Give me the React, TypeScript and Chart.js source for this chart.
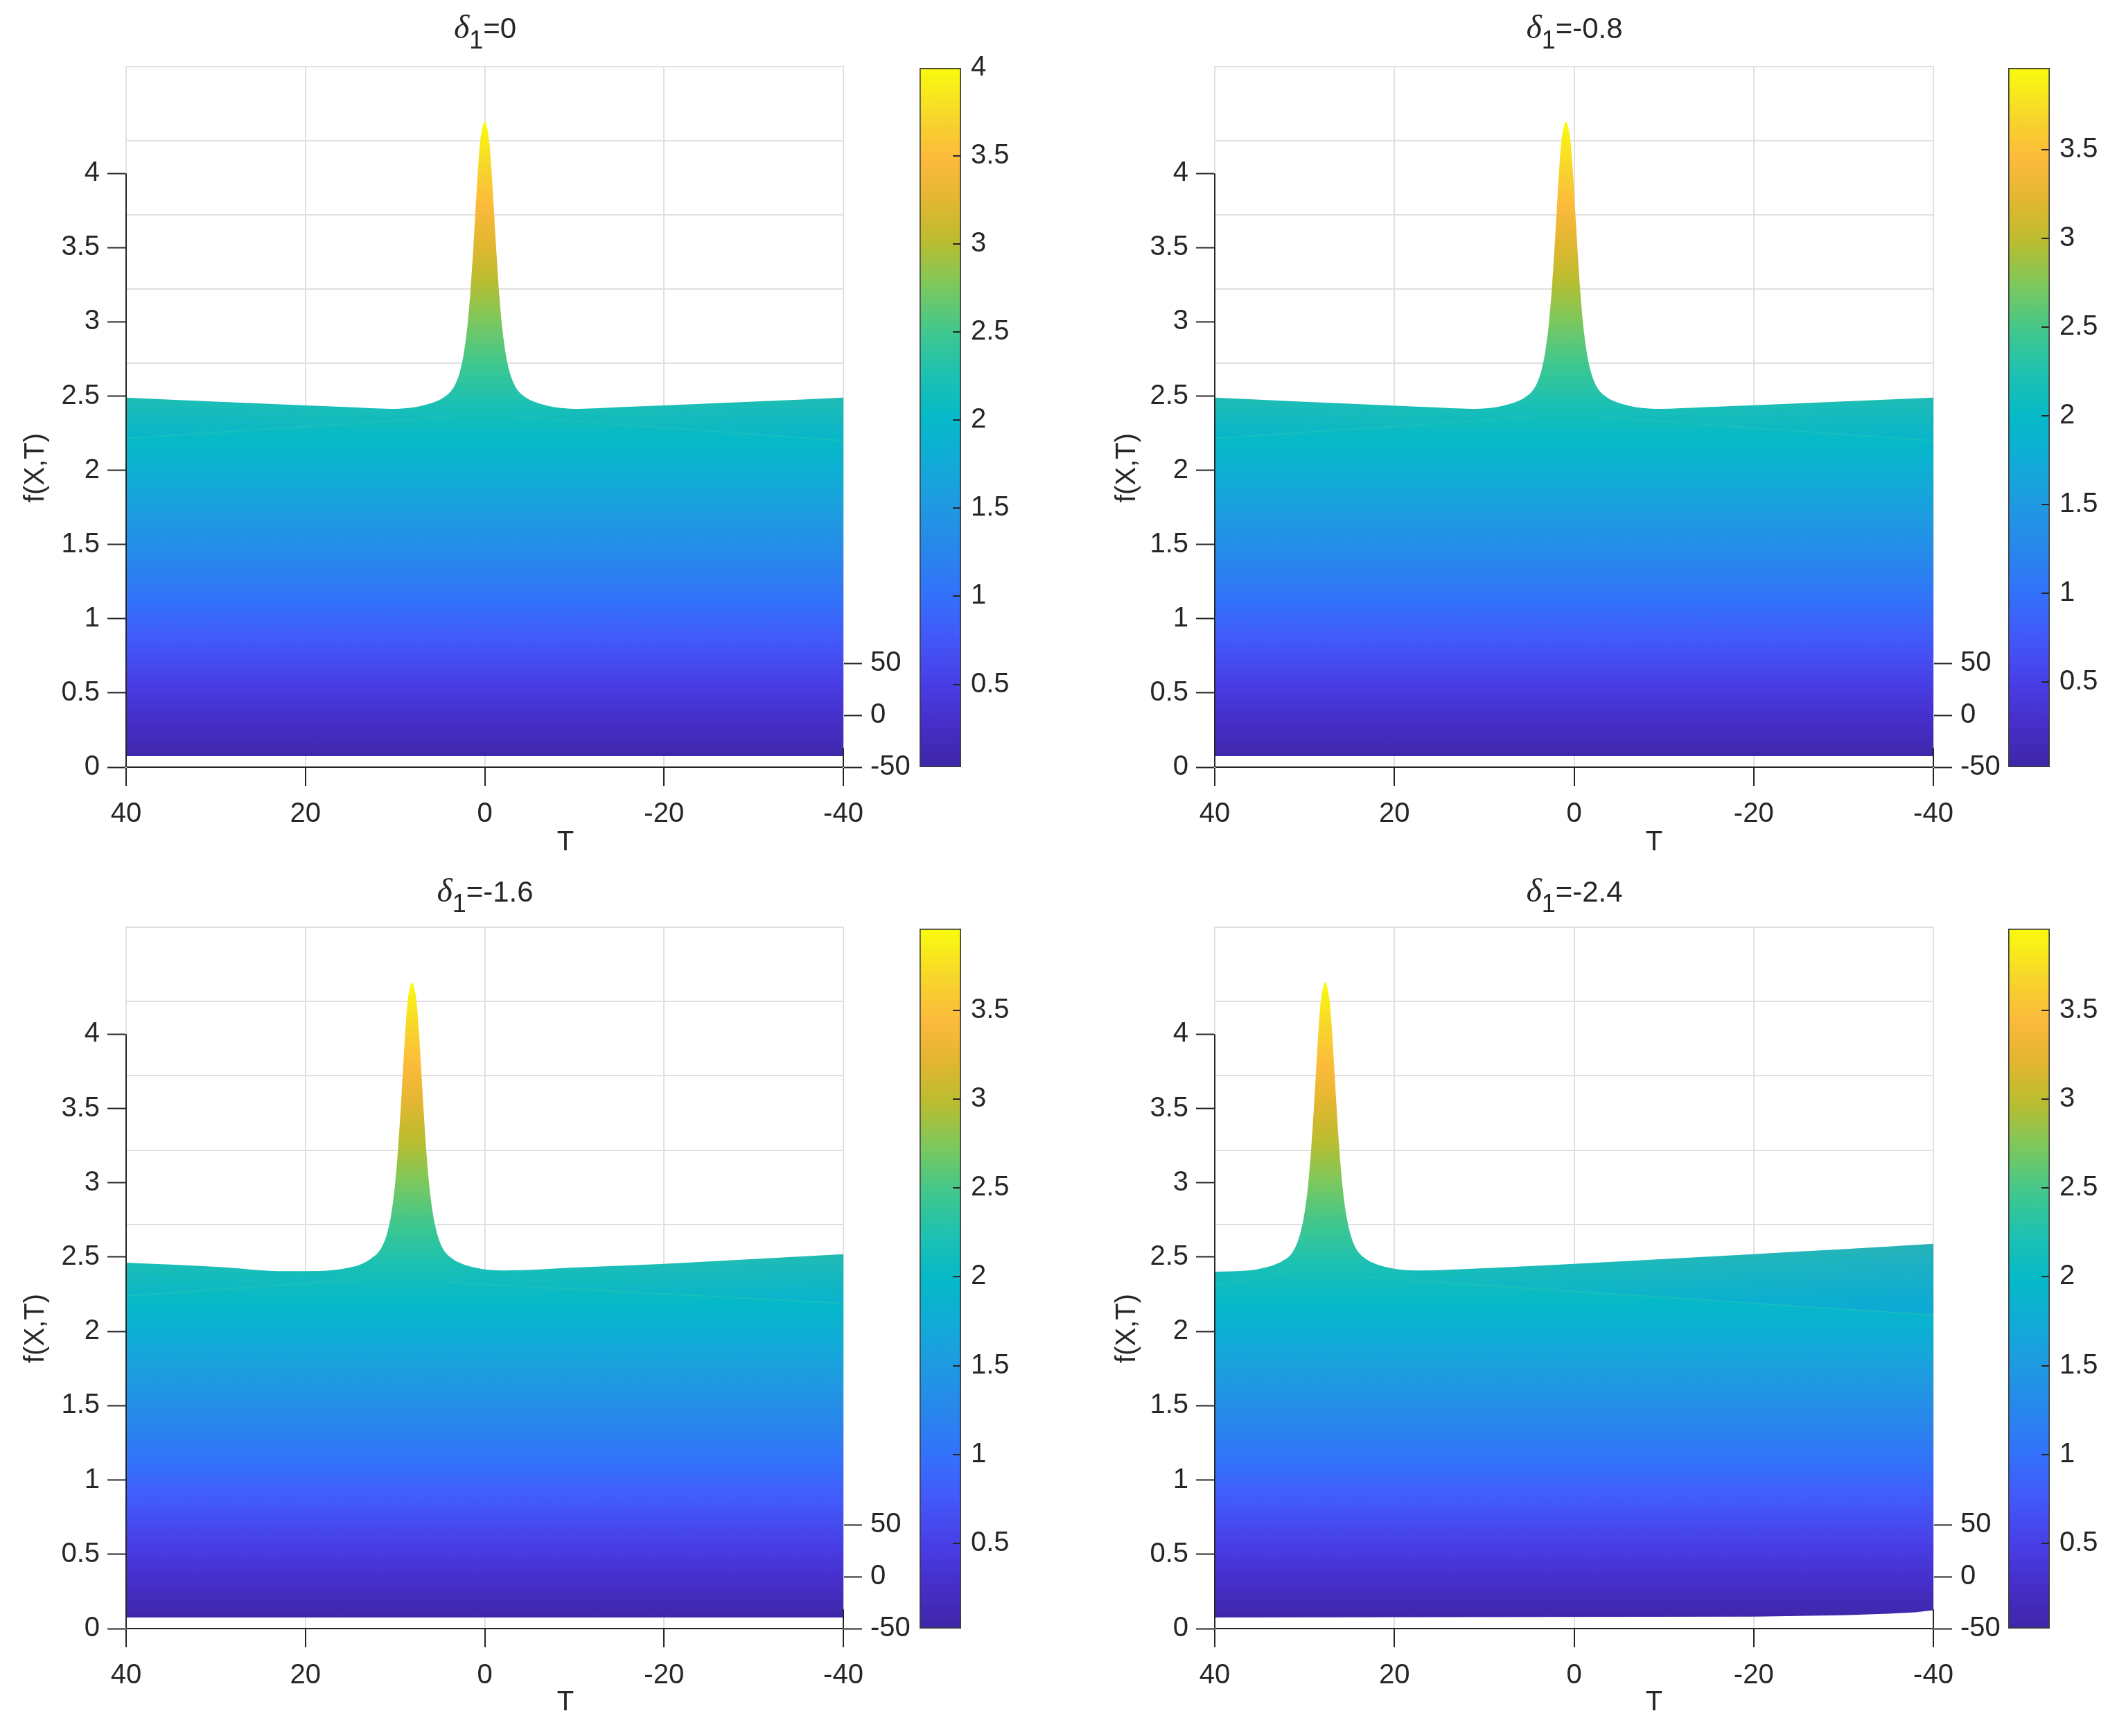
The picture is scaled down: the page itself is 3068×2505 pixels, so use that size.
import React, { useEffect, useRef } from "react";
import { Chart, registerables } from "chart.js";

Chart.register(...registerables);

const FONT = '"Liberation Sans", Arial, Helvetica, sans-serif';
const INK = "#262626";
const GRID = "#e0e0e0";

// ---------------- data ----------------
const DELTAS = ["0", "-0.8", "-1.6", "-2.4"];

const X_TICKS = [40, 20, 0, -20, -40];
const Y_TICKS = [0, 0.5, 1, 1.5, 2, 2.5, 3, 3.5, 4];
const Y_BACK_GRID = [0.22, 0.72, 1.22, 1.72, 2.22, 2.72, 3.22, 3.72, 4.22];
const DEPTH_TICKS = [-50, 0, 50];
const CBAR_TICKS_A = [0.5, 1, 1.5, 2, 2.5, 3, 3.5, 4];
const CBAR_TICKS_B = [0.5, 1, 1.5, 2, 2.5, 3, 3.5];

// panel 1 (delta = 0)
const T_TOP_1 = [-40, -30, -20, -15, -10.5, -8.5, -7, -5.6, -4.6, -3.8, -3.2, -2.7, -2.3, -1.9, -1.55, -1.25, -1, -0.75, -0.5, -0.25, 0, 0.25, 0.5, 0.75, 1, 1.25, 1.55, 1.9, 2.3, 2.7, 3.2, 3.8, 4.6, 5.6, 7, 8.5, 10.5, 15, 20, 30, 40];
const F_TOP_1 = [2.49, 2.463, 2.437, 2.425, 2.414, 2.42, 2.435, 2.46, 2.49, 2.53, 2.59, 2.68, 2.8, 2.99, 3.24, 3.52, 3.78, 4.03, 4.22, 4.31, 4.35, 4.31, 4.22, 4.03, 3.78, 3.52, 3.24, 2.99, 2.8, 2.68, 2.59, 2.53, 2.49, 2.46, 2.435, 2.42, 2.414, 2.425, 2.437, 2.463, 2.49];
const T_EDGE_1 = [-40, -3.6, 0, 3.6, 40];
const F_EDGE_1 = [2.2, 2.36, null, 2.36, 2.215];
const T_BASE_1 = [-40, 40];
const F_BASE_1 = [0.075, 0.075];

// panel 2 (delta = -0.8)
const T_TOP_2 = [-40, -30, -20, -14.1, -9.6, -7.6, -6.1, -4.7, -3.7, -2.9, -2.3, -1.8, -1.4, -1.0, -0.65, -0.35, -0.1, 0.15, 0.4, 0.65, 0.9, 1.15, 1.4, 1.65, 1.9, 2.15, 2.45, 2.8, 3.2, 3.6, 4.1, 4.7, 5.5, 6.5, 7.9, 9.4, 11.4, 16, 21, 30, 40];
const F_TOP_2 = [2.49, 2.464, 2.438, 2.424, 2.414, 2.42, 2.435, 2.46, 2.49, 2.53, 2.59, 2.68, 2.8, 2.99, 3.24, 3.52, 3.78, 4.03, 4.22, 4.31, 4.35, 4.31, 4.22, 4.03, 3.78, 3.52, 3.24, 2.99, 2.8, 2.68, 2.59, 2.53, 2.49, 2.46, 2.435, 2.42, 2.414, 2.425, 2.438, 2.462, 2.49];
const T_EDGE_2 = [-40, -2.7, 0.9, 4.5, 40];
const F_EDGE_2 = [2.2, 2.36, null, 2.36, 2.215];
const T_BASE_2 = [-40, 40];
const F_BASE_2 = [0.075, 0.075];

// panel 3 (delta = -1.6)
const T_TOP_3 = [-40, -30, -20, -10, -2.4, -0.4, 1.1, 2.5, 3.5, 4.3, 4.9, 5.4, 5.8, 6.2, 6.55, 6.85, 7.1, 7.35, 7.6, 7.85, 8.1, 8.35, 8.6, 8.85, 9.1, 9.35, 9.65, 10.0, 10.4, 10.8, 11.3, 11.9, 12.7, 13.7, 15.1, 16.6, 18.6, 22, 30, 40];
const F_TOP_3 = [2.52, 2.487, 2.455, 2.43, 2.41, 2.415, 2.43, 2.455, 2.485, 2.525, 2.585, 2.68, 2.8, 2.99, 3.24, 3.52, 3.78, 4.03, 4.22, 4.31, 4.35, 4.31, 4.22, 4.03, 3.78, 3.52, 3.24, 2.99, 2.8, 2.68, 2.59, 2.53, 2.49, 2.455, 2.43, 2.415, 2.407, 2.405, 2.435, 2.463];
const T_EDGE_3 = [-40, 4.2, 8.1, 12.3, 40];
const F_EDGE_3 = [2.19, 2.33, null, 2.355, 2.24];
const T_BASE_3 = [-40, 40];
const F_BASE_3 = [0.075, 0.075];

// panel 4 (delta = -2.4)
const T_TOP_4 = [-40, -30, -20, -10, 0, 10, 17.2, 19.2, 20.7, 22.1, 23.1, 23.9, 24.5, 25, 25.4, 25.8, 26.15, 26.45, 26.7, 26.95, 27.2, 27.45, 27.7, 27.95, 28.2, 28.45, 28.7, 28.95, 29.25, 29.6, 30, 30.4, 30.9, 31.5, 32.3, 33.3, 34.7, 36.2, 40];
const F_TOP_4 = [2.59, 2.553, 2.52, 2.487, 2.455, 2.425, 2.41, 2.415, 2.43, 2.455, 2.485, 2.525, 2.585, 2.68, 2.8, 2.99, 3.24, 3.52, 3.78, 4.03, 4.22, 4.31, 4.35, 4.31, 4.22, 4.03, 3.78, 3.52, 3.24, 2.99, 2.8, 2.68, 2.585, 2.52, 2.48, 2.45, 2.425, 2.41, 2.402];
const T_EDGE_4 = [-40, -20, 0, 24, 27.7, 31.5, 40];
const F_EDGE_4 = [2.11, 2.19, 2.27, 2.37, null, 2.4, 2.31];
const T_BASE_4 = [-40, -38, -35, -30, -25, -20, 40];
const F_BASE_4 = [0.124, 0.11, 0.1, 0.09, 0.085, 0.08, 0.075];

// colour limits
const SURF_MIN = 0.05;
const SURF_MAX = 4.35;
const CBAR_RANGE_1 = [0.03, 4.0];
const CBAR_RANGE_B = [0.02, 3.96];

// parula-like colormap stops
const PARULA: [number, number, number, number][] = [
  [0.0, 62, 38, 168],
  [0.06, 70, 46, 200],
  [0.12, 72, 62, 230],
  [0.19, 66, 90, 250],
  [0.25, 50, 114, 250],
  [0.31, 40, 134, 236],
  [0.38, 30, 155, 225],
  [0.44, 16, 172, 214],
  [0.5, 5, 185, 200],
  [0.56, 28, 193, 178],
  [0.62, 62, 199, 143],
  [0.69, 125, 200, 92],
  [0.75, 185, 189, 48],
  [0.81, 226, 182, 48],
  [0.87, 252, 186, 60],
  [0.93, 247, 214, 42],
  [1.0, 249, 251, 14],
];

// ---------------- layout (page pixels) ----------------
const Y_MAX = 4.72;
const DEPTH_MAX = 626;
const PAD_TOP = 34;
const AX_BOTTOM = 143;
const AX_LEFT = 182;
const AX_RIGHT = 130;
const FS = 40;

type Panel = {
  delta: string;
  left: number;
  right: number;
  top: number;
  bottom: number;
  cbLeft: number;
  topT: number[];
  topF: number[];
  edgeT: number[];
  edgeF: (number | null)[];
  baseT: number[];
  baseF: number[];
  cbRange: number[];
  cbTicks: number[];
  tintL: number;
  tintR: number;
  titleX: number;
  titleY: number;
  tX: number;
  tY: number;
  fX: number;
  fY: number;
};

const PANELS: Panel[] = [
  { delta: DELTAS[0], left: 182, right: 1217, top: 94, bottom: 1107, cbLeft: 1327, topT: T_TOP_1, topF: F_TOP_1, edgeT: T_EDGE_1, edgeF: F_EDGE_1, baseT: T_BASE_1, baseF: F_BASE_1, cbRange: CBAR_RANGE_1, cbTicks: CBAR_TICKS_A, tintL: 0.1, tintR: 0.1, titleX: 700, titleY: 39, tX: 816, tY: 1213, fX: 49, fY: 675 },
  { delta: DELTAS[1], left: 1753, right: 2790, top: 94, bottom: 1107, cbLeft: 2898, topT: T_TOP_2, topF: F_TOP_2, edgeT: T_EDGE_2, edgeF: F_EDGE_2, baseT: T_BASE_2, baseF: F_BASE_2, cbRange: CBAR_RANGE_B, cbTicks: CBAR_TICKS_B, tintL: 0.1, tintR: 0.1, titleX: 2272, titleY: 39, tX: 2387, tY: 1213, fX: 1624, fY: 675 },
  { delta: DELTAS[2], left: 182, right: 1217, top: 1336, bottom: 2350, cbLeft: 1327, topT: T_TOP_3, topF: F_TOP_3, edgeT: T_EDGE_3, edgeF: F_EDGE_3, baseT: T_BASE_3, baseF: F_BASE_3, cbRange: CBAR_RANGE_B, cbTicks: CBAR_TICKS_B, tintL: 0.08, tintR: 0.14, titleX: 700, titleY: 1285, tX: 816, tY: 2454, fX: 49, fY: 1917 },
  { delta: DELTAS[3], left: 1753, right: 2790, top: 1336, bottom: 2350, cbLeft: 2898, topT: T_TOP_4, topF: F_TOP_4, edgeT: T_EDGE_4, edgeF: F_EDGE_4, baseT: T_BASE_4, baseF: F_BASE_4, cbRange: CBAR_RANGE_B, cbTicks: CBAR_TICKS_B, tintL: 0.04, tintR: 0.32, titleX: 2272, titleY: 1285, tX: 2387, tY: 2454, fX: 1624, fY: 1917 },
];

Chart.defaults.font.family = FONT;
Chart.defaults.color = INK;

function parulaGradient(c: CanvasRenderingContext2D, scale: any, vmin: number, vmax: number) {
  const p0 = scale.getPixelForValue(vmin);
  const p1 = scale.getPixelForValue(vmax);
  const g = c.createLinearGradient(0, p0, 0, p1);
  PARULA.forEach(([t, r, gg, b]) => g.addColorStop(t, `rgb(${r},${gg},${b})`));
  return g;
}

const pts = (xs: number[], ys: (number | null)[]) => xs.map((x, i) => ({ x, y: ys[i] }));
const fixTicks = (vals: number[]) => (axis: any) => {
  axis.ticks = vals.map((v) => ({ value: v }));
};
const labelFmt = (v: any) => String(v);
const tickFont = { size: FS, family: FONT };

function PanelView({ p }: { p: Panel }) {
  const mainRef = useRef<HTMLCanvasElement>(null);
  const cbRef = useRef<HTMLCanvasElement>(null);

  const mainW = AX_LEFT + (p.right - p.left) + AX_RIGHT;
  const mainH = PAD_TOP + (p.bottom - p.top) + AX_BOTTOM;
  const mainLeft = p.left - AX_LEFT;
  const mainTop = p.top - PAD_TOP;
  const cbW = 170;

  useEffect(() => {
    let peakT = p.topT[0];
    let peakV = -Infinity;
    p.topF.forEach((v, i) => {
      if (v > peakV) {
        peakV = v;
        peakT = p.topT[i];
      }
    });

    const axisPlugin = {
      id: "axisSegment",
      afterDraw(chart: any) {
        const { ctx, chartArea, scales } = chart;
        ctx.save();
        ctx.strokeStyle = INK;
        ctx.lineWidth = 2;
        ctx.beginPath();
        ctx.moveTo(chartArea.left, scales.y.getPixelForValue(0));
        ctx.lineTo(chartArea.left, scales.y.getPixelForValue(4));
        ctx.stroke();
        ctx.beginPath();
        ctx.moveTo(chartArea.right, scales.y.getPixelForValue(0.13));
        ctx.lineTo(chartArea.right, chartArea.bottom);
        ctx.stroke();
        ctx.restore();
      },
    };

    const main = new Chart(mainRef.current as HTMLCanvasElement, {
      type: "line",
      data: {
        datasets: [
          {
            label: "base",
            data: pts(p.baseT, p.baseF),
            borderWidth: 0,
            pointRadius: 0,
            fill: false,
            order: 2,
          },
          {
            label: "surface",
            data: pts(p.topT, p.topF),
            borderWidth: 0,
            pointRadius: 0,
            cubicInterpolationMode: "monotone",
            fill: "-1",
            order: 1,
            backgroundColor: (ctx: any) => {
              const ch = ctx.chart;
              if (!ch.chartArea) return "rgba(0,0,0,0)";
              return parulaGradient(ch.ctx, ch.scales.y, SURF_MIN, SURF_MAX);
            },
          },
          {
            label: "edge",
            data: pts(p.edgeT, p.edgeF),
            borderWidth: 2,
            borderColor: "rgba(40,196,182,0.5)",
            pointRadius: 0,
            spanGaps: false,
            fill: "-1",
            order: 0,
            backgroundColor: (ctx: any) => {
              const ch = ctx.chart;
              if (!ch.chartArea) return "rgba(0,0,0,0)";
              const xs = ch.scales.x;
              const xl = xs.getPixelForValue(40);
              const xr = xs.getPixelForValue(-40);
              const g = ch.ctx.createLinearGradient(xl, 0, xr, 0);
              const fp = Math.min(0.99, Math.max(0.01, (xs.getPixelForValue(peakT) - xl) / (xr - xl)));
              g.addColorStop(0, `rgba(30,140,235,${p.tintL})`);
              g.addColorStop(fp, "rgba(30,140,235,0)");
              g.addColorStop(1, `rgba(30,140,235,${p.tintR})`);
              return g;
            },
          },
        ],
      },
      options: {
        responsive: false,
        animation: false,
        devicePixelRatio: 1,
        layout: { padding: { top: PAD_TOP, left: 0, right: 0, bottom: 0 } },
        plugins: { legend: { display: false }, tooltip: { enabled: false }, title: { display: false } },
        scales: {
          x: {
            type: "linear",
            position: "bottom",
            reverse: true,
            min: -40,
            max: 40,
            afterBuildTicks: fixTicks(X_TICKS),
            afterFit: (a: any) => {
              a.height = AX_BOTTOM;
            },
            grid: { color: GRID, lineWidth: 2, tickColor: INK, tickLength: 27, tickWidth: 2 },
            border: { color: INK, width: 2 },
            ticks: { font: tickFont, color: INK, padding: 17, maxRotation: 0, callback: labelFmt },
          },
          y: {
            type: "linear",
            position: "left",
            min: 0,
            max: Y_MAX,
            afterBuildTicks: fixTicks(Y_TICKS),
            afterFit: (a: any) => {
              a.width = AX_LEFT;
            },
            grid: { drawOnChartArea: false, tickColor: INK, tickLength: 27, tickWidth: 2 },
            border: { color: GRID, width: 2 },
            ticks: { font: tickFont, color: INK, padding: 11, callback: labelFmt },
          },
          yBack: {
            type: "linear",
            position: "left",
            min: 0,
            max: Y_MAX,
            afterBuildTicks: fixTicks([...Y_BACK_GRID, Y_MAX]),
            afterFit: (a: any) => {
              a.width = 0;
            },
            grid: { color: GRID, lineWidth: 2, drawTicks: false },
            border: { display: false },
            ticks: { display: false },
          },
          depth: {
            type: "linear",
            position: "right",
            min: -50,
            max: DEPTH_MAX,
            afterBuildTicks: fixTicks(DEPTH_TICKS),
            afterFit: (a: any) => {
              a.width = AX_RIGHT;
            },
            grid: { drawOnChartArea: false, tickColor: INK, tickLength: 27, tickWidth: 2 },
            border: { color: GRID, width: 2 },
            ticks: { font: tickFont, color: INK, padding: 12, callback: labelFmt },
          },
        },
      },
      plugins: [axisPlugin],
    } as any);

    const cbTicksPlugin = {
      id: "cbInsideTicks",
      afterDraw(chart: any) {
        const { ctx, chartArea, scales } = chart;
        ctx.save();
        ctx.strokeStyle = INK;
        ctx.lineWidth = 2;
        p.cbTicks.forEach((v) => {
          if (v >= p.cbRange[1]) return;
          const y = Math.round(scales.y.getPixelForValue(v));
          ctx.beginPath();
          ctx.moveTo(chartArea.right - 12, y);
          ctx.lineTo(chartArea.right - 1, y);
          ctx.stroke();
        });
        ctx.restore();
      },
    };

    const cb = new Chart(cbRef.current as HTMLCanvasElement, {
      type: "bar",
      data: {
        labels: ["c"],
        datasets: [
          {
            label: "colorbar",
            data: [[p.cbRange[0], p.cbRange[1]]],
            barPercentage: 1,
            categoryPercentage: 1,
            borderWidth: 2,
            borderColor: "#3c3c3c",
            borderSkipped: false,
            backgroundColor: (ctx: any) => {
              const ch = ctx.chart;
              if (!ch.chartArea) return "rgba(0,0,0,0)";
              return parulaGradient(ch.ctx, ch.scales.y, p.cbRange[0], p.cbRange[1]);
            },
          },
        ],
      },
      options: {
        responsive: false,
        animation: false,
        devicePixelRatio: 1,
        layout: { padding: { top: PAD_TOP, bottom: AX_BOTTOM, left: 0, right: 0 } },
        plugins: { legend: { display: false }, tooltip: { enabled: false } },
        scales: {
          x: { display: false },
          y: {
            type: "linear",
            position: "right",
            min: p.cbRange[0],
            max: p.cbRange[1],
            afterBuildTicks: fixTicks(p.cbTicks),
            afterFit: (a: any) => {
              a.width = 110;
            },
            grid: { display: false, drawTicks: false },
            border: { display: false },
            ticks: { font: tickFont, color: INK, padding: 14, callback: labelFmt },
          },
        },
      },
      plugins: [cbTicksPlugin],
    } as any);

    return () => {
      main.destroy();
      cb.destroy();
    };
  }, [p]);

  const textStyle: React.CSSProperties = {
    position: "absolute",
    fontFamily: FONT,
    fontSize: FS,
    color: INK,
    whiteSpace: "nowrap",
    lineHeight: 1,
  };

  return (
    <>
      <canvas
        ref={mainRef}
        width={mainW}
        height={mainH}
        style={{ position: "absolute", left: mainLeft, top: mainTop, width: mainW, height: mainH }}
      />
      <canvas
        ref={cbRef}
        width={cbW}
        height={mainH}
        style={{ position: "absolute", left: p.cbLeft, top: mainTop, width: cbW, height: mainH }}
      />
      <div style={{ ...textStyle, left: p.titleX, top: p.titleY, transform: "translate(-50%,-50%)", fontSize: 42 }}>
        <span style={{ fontFamily: '"Liberation Serif", "DejaVu Serif", serif', fontStyle: "italic", fontSize: 48 }}>δ</span>
        <span style={{ position: "relative", top: 15, fontSize: 36 }}>1</span>
        <span>={p.delta}</span>
      </div>
      <div style={{ ...textStyle, left: p.tX, top: p.tY, transform: "translate(-50%,-50%)" }}>T</div>
      <div style={{ ...textStyle, left: p.fX, top: p.fY, transform: "translate(-50%,-50%) rotate(-90deg)" }}>f(X,T)</div>
    </>
  );
}

export default function App() {
  return (
    <div
      style={{
        position: "absolute",
        left: 0,
        top: 0,
        width: 3068,
        height: 2505,
        background: "#ffffff",
        overflow: "hidden",
      }}
    >
      {PANELS.map((p, i) => (
        <PanelView key={i} p={p} />
      ))}
    </div>
  );
}
